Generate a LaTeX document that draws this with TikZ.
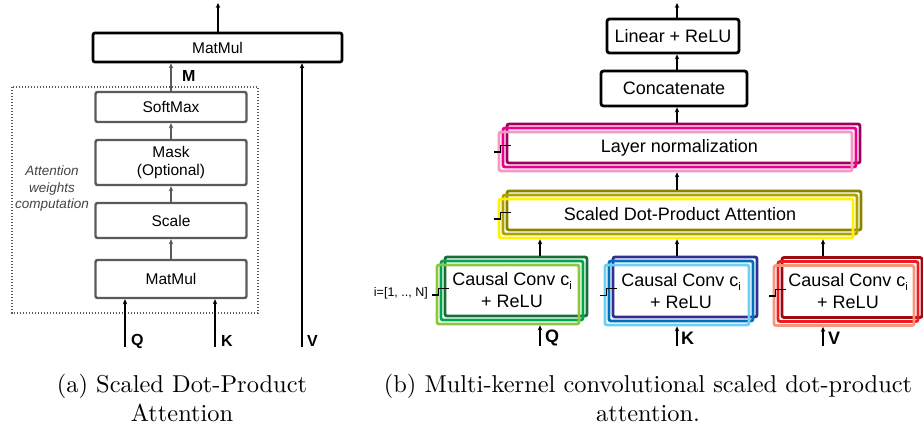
\documentclass[tikz,border=0pt]{standalone}
\usepackage{fontspec}
\newfontfamily\arial{Liberation Sans}
\newfontfamily\capfont[Extension=.otf]{lmroman10-regular}
\usetikzlibrary{arrows.meta,calc}

\definecolor{boxgray}{HTML}{5A5A5A}
\definecolor{notegray}{HTML}{444444}
\definecolor{lnback}{HTML}{9E005D}
\definecolor{lnmid}{HTML}{EC008C}
\definecolor{lnfront}{HTML}{F49AC1}
\definecolor{sdback}{HTML}{8A8300}
\definecolor{sdmid}{HTML}{ABA300}
\definecolor{sdfront}{HTML}{FFF200}
\definecolor{qback}{HTML}{1A6E35}
\definecolor{qmid}{HTML}{00A651}
\definecolor{qfront}{HTML}{8DC63F}
\definecolor{kback}{HTML}{2E3192}
\definecolor{kmid}{HTML}{0072BC}
\definecolor{kfront}{HTML}{6DCFF6}
\definecolor{vback}{HTML}{9E0B0F}
\definecolor{vmid}{HTML}{ED1C24}
\definecolor{vfront}{HTML}{F7977A}

\tikzset{
  gbox/.style={draw=boxgray, line width=2.4pt, rounded corners=2pt, inner sep=0pt,
    align=center, font=\arial\fontsize{15.5}{18.5}\selectfont},
  kbox/.style={draw=black, line width=2.8pt, rounded corners=2.5pt, inner sep=0pt,
    align=center, font=\arial\fontsize{18}{22}\selectfont},
  layer/.style={draw=#1, line width=2.8pt, rounded corners=2pt, inner sep=0pt,
    align=center, font=\arial\fontsize{18}{22}\selectfont},
  arr/.style={-{Stealth[length=5pt,width=4.5pt]}, line width=1.6pt, draw=black},
  garr/.style={arr, draw=boxgray},
  lbl/.style={font=\arial\bfseries\fontsize{16}{18}\selectfont, anchor=west, inner sep=0pt},
  rlbl/.style={font=\arial\bfseries\fontsize{18}{20}\selectfont, anchor=west, inner sep=0pt},
  captext/.style={anchor=base, inner sep=0pt, font=\capfont\fontsize{24.4}{30}\selectfont},
}

% kernel index written low beside the c
\newcommand\kidx{\raisebox{-4pt}{\fontsize{11}{11}\selectfont i}}

% three offset outlines of one block; the text sits in the middle outline
\newcommand\layerstack[9]{%
  \node[layer=#6, minimum width=#4, minimum height=#5] (#13) at (#2+8,#3-8) {};
  \node[layer=#7, minimum width=#4, minimum height=#5] (#12) at (#2+4,#3-4) {#9};
  \node[layer=#8, minimum width=#4, minimum height=#5] (#11) at (#2,#3) {};
}
% small step mark at the left side of a stack
\newcommand\stepmark[1]{%
  \draw[line width=1.4pt] ($(#1.west)+(-4,0.5)$) -- ($(#1.west)+(3,0.5)$);
  \draw[line width=0.8pt] ($(#1.west)+(3,0.5)$) -- ($(#1.west)+(3,-6.5)$)
    -- ($(#1.west)+(13,-6.5)$);
}

\begin{document}
\begin{tikzpicture}[x=1pt,y=-1pt]
\useasboundingbox (0,0) rectangle (923,426);

% ---------------- (a) scaled dot-product attention ----------------
\draw[boxgray, line width=1.2pt, dash pattern=on 1.2pt off 1.8pt] (12,87) rectangle (258,313);
\node[font=\arial\itshape\fontsize{13.5}{16.5}\selectfont, text=notegray, align=center]
  (note) at (52,189) {Attention\\weights\\computation};

\node[gbox, draw=black, line width=2.7pt, minimum width=249, minimum height=29] (mmtop) at (217.5,47.5) {MatMul};
\node[gbox, minimum width=151, minimum height=30] (soft)  at (171,107)   {SoftMax};
\node[gbox, minimum width=151, minimum height=45] (mask)  at (171,162.5) {Mask\\(Optional)};
\node[gbox, minimum width=151, minimum height=35] (scale) at (171,220.5) {Scale};
\node[gbox, minimum width=151, minimum height=38] (mmlow) at (171,279)   {MatMul};

\draw[garr] (mmlow.north) -- (scale.south);
\draw[garr] (scale.north) -- (mask.south);
\draw[garr] (mask.north) -- (soft.south);
\draw[garr] (soft.north) -- (mmtop.south -| soft.north);
\node[lbl] (mlab) at (182,76) {M};

\coordinate (outa) at (218,3);
\draw[arr] (mmtop.north -| outa) -- (outa);

\coordinate (qa) at (125,347);
\coordinate (ka) at (215,347);
\coordinate (va) at (302,347);
\draw[arr] (qa) -- (mmlow.south -| qa);
\draw[arr] (ka) -- (mmlow.south -| ka);
\draw[arr] (va) -- (mmtop.south -| va);
\node[lbl] (qlab) at (131,341) {Q};
\node[lbl] (klab) at (221,341) {K};
\node[lbl] (vlab) at (307,341) {V};

% ---------------- (b) multi-kernel convolutional attention ----------------
\node[kbox, minimum width=132, minimum height=34] (lin) at (673,36)   {Linear + ReLU};
\node[kbox, minimum width=146, minimum height=35] (cat) at (674,88.5) {Concatenate};

\layerstack{ln}{675.5}{151.5}{353}{39}{lnback}{lnmid}{lnfront}{Layer normalization}
\layerstack{sd}{676}{218.5}{354}{39}{sdback}{sdmid}{sdfront}{Scaled Dot-Product Attention}
\layerstack{q}{508}{294.5}{142}{59}{qback}{qmid}{qfront}{Causal Conv c\kidx\\+ ReLU}
\layerstack{k}{677}{295}{144}{60}{kback}{kmid}{kfront}{Causal Conv c\kidx\\+ ReLU}
\layerstack{v}{844}{295.5}{140}{60}{vback}{vmid}{vfront}{Causal Conv c\kidx\\+ ReLU}

\stepmark{ln1}
\stepmark{sd1}
\stepmark{q1}
\stepmark{k1}
\stepmark{v1}
\node[font=\arial\fontsize{12.5}{15}\selectfont, anchor=east, inner sep=0pt] (range) at (428,293) {i=[1, .., N]};

\coordinate (xq) at (540,0);
\coordinate (xk) at (677,0);
\coordinate (xv) at (823,0);
\coordinate (outb) at (677,3);

\draw[arr] (q3.north -| xq) -- (sd1.south -| xq);
\draw[arr] (k3.north -| xk) -- (sd1.south -| xk);
\draw[arr] (v3.north -| xv) -- (sd1.south -| xv);
\draw[arr] (sd3.north -| xk) -- (ln1.south -| xk);
\draw[arr] (ln3.north -| xk) -- (cat.south -| xk);
\draw[arr] (cat.north -| xk) -- (lin.south -| xk);
\draw[arr] (lin.north -| xk) -- (outb);

\coordinate (qb) at (540,346);
\coordinate (kb) at (677,346);
\coordinate (vb) at (823,346);
\draw[arr] (qb) -- (q1.south -| qb);
\draw[arr] (kb) -- (k1.south -| kb);
\draw[arr] (vb) -- (v1.south -| vb);
\node[rlbl] (qblab) at (545,338) {Q};
\node[rlbl] (kblab) at (681,338) {K};
\node[rlbl] (vblab) at (828,338) {V};

% ---------------- captions ----------------
\node[captext] (capa1) at (182,392) {(a) Scaled Dot-Product};
\node[captext] (capa2) at (182,421) {Attention};
\node[captext] (capb1) at (648,392) {(b) Multi-kernel convolutional scaled dot-product};
\node[captext] (capb2) at (648,421) {attention.};
\end{tikzpicture}
\end{document}
